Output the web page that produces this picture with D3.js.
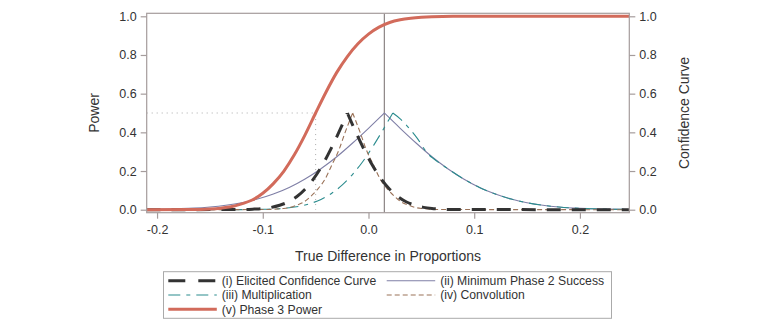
<!doctype html>
<html>
<head>
<meta charset="utf-8">
<title>Power and confidence curves</title>
<script src="https://cdn.jsdelivr.net/npm/d3@7"></script>
<style>
  body { margin: 0; background: #fff; }
  text { font-family: "Liberation Sans", Arial, sans-serif; fill: #333; }
</style>
</head>
<body>
<svg width="779" height="323"></svg>
<script>
// tick labels
var xTicks = [-0.2, -0.1, 0.0, 0.1, 0.2];
var yTicks = [0, 0.2, 0.4, 0.6, 0.8, 1.0];

// reference values
var refLine = 0.015;      // solid vertical line
var halfPower = -0.05;    // dotted guide: power 0.5

// (i) elicited confidence curve, [x, y]
var elicited = [[-0.21,0],[-0.116,0.001],[-0.108,0.003],[-0.1,0.006],[-0.092,0.012],[-0.084,0.023],
  [-0.076,0.04],[-0.068,0.067],[-0.06,0.106],[-0.052,0.159],[-0.044,0.227],[-0.036,0.309],[-0.028,0.401],
  [-0.02,0.5],
  [-0.012,0.401],[-0.004,0.309],[0.004,0.227],[0.012,0.159],[0.02,0.106],[0.028,0.067],[0.036,0.04],
  [0.044,0.023],[0.052,0.012],[0.06,0.006],[0.068,0.003],[0.076,0.001],[0.2467,0]];

// (ii) minimum phase 2 success
var minSuccess = [[-0.21,0.0015],[-0.195,0.003],[-0.18,0.005],[-0.165,0.008],[-0.15,0.014],[-0.135,0.023],
  [-0.12,0.036],[-0.105,0.055],[-0.09,0.081],[-0.075,0.115],[-0.06,0.159],[-0.045,0.212],[-0.03,0.274],
  [-0.015,0.345],[0,0.421],
  [0.015,0.5],
  [0.03,0.421],[0.045,0.345],[0.06,0.274],[0.075,0.212],[0.09,0.159],[0.105,0.115],[0.12,0.081],
  [0.135,0.055],[0.15,0.036],[0.165,0.023],[0.18,0.014],[0.195,0.008],[0.21,0.005],[0.225,0.003],
  [0.24,0.0015],[0.2467,0.001]];

// (iii) multiplication
var multiplication = [[-0.21,0],[-0.12,0.0005],[-0.1,0.002],[-0.085,0.005],[-0.075,0.01],[-0.065,0.018],
  [-0.055,0.032],[-0.045,0.053],[-0.035,0.084],[-0.025,0.127],[-0.015,0.183],[-0.005,0.252],
  [0.005,0.334],[0.015,0.425],
  [0.023,0.5],
  [0.03,0.47],[0.037,0.43],[0.046,0.37],[0.056,0.29],[0.062,0.262],[0.075,0.212],[0.09,0.159],
  [0.105,0.115],[0.12,0.081],[0.135,0.055],[0.15,0.036],[0.165,0.023],[0.18,0.014],[0.195,0.008],
  [0.21,0.005],[0.225,0.003],[0.24,0.0015],[0.2467,0.001]];

// (iv) convolution
var convolution = [[-0.21,0],[-0.094,0.001],[-0.088,0.003],[-0.081,0.006],[-0.074,0.012],[-0.068,0.023],
  [-0.061,0.04],[-0.055,0.067],[-0.048,0.106],[-0.041,0.159],[-0.035,0.227],[-0.028,0.309],[-0.022,0.401],
  [-0.015,0.5],
  [-0.008,0.401],[-0.002,0.309],[0.005,0.227],[0.011,0.159],[0.018,0.106],[0.025,0.067],[0.031,0.04],
  [0.038,0.023],[0.044,0.012],[0.051,0.006],[0.058,0.003],[0.064,0.001],[0.2467,0]];

// (v) phase 3 power
var power = [[-0.21,0],[-0.17,0.001],[-0.15,0.004],[-0.14,0.008],[-0.13,0.015],[-0.12,0.03],[-0.11,0.05],
  [-0.1,0.085],[-0.09,0.135],[-0.08,0.2],[-0.07,0.285],[-0.06,0.387],[-0.05,0.5],[-0.04,0.61],[-0.03,0.71],
  [-0.02,0.792],[-0.01,0.858],[0,0.908],[0.01,0.944],[0.02,0.968],[0.03,0.982],[0.04,0.99],[0.05,0.995],
  [0.06,0.998],[0.08,1],[0.2467,1]];

var series = [
  { name: "(ii) Minimum Phase 2 Success", data: minSuccess, color: "#7f7fa6", width: 1.1, dash: null, peak: true },
  { name: "(iii) Multiplication", data: multiplication, color: "#2b8c8e", width: 1.1, dash: "12,6,4,6", peak: true },
  { name: "(iv) Convolution", data: convolution, color: "#9a7258", width: 1.1, dash: "5,3", peak: true },
  { name: "(i) Elicited Confidence Curve", data: elicited, color: "#333333", width: 3, dash: "14,11", peak: true },
  { name: "(v) Phase 3 Power", data: power, color: "#d26b5b", width: 3, dash: null, peak: false }
];

var svg = d3.select("svg");
var pLeft = 146.7, pRight = 629.3, pTop = 13.3, pBottom = 212.7;

var x = d3.scaleLinear().domain([-0.2098, 0.2467]).range([pLeft, pRight]);
var y = d3.scaleLinear().domain([-0.0155, 1.0155]).range([pBottom, pTop]);

var axisColor = "#a59c9c";

// clip to plot frame
svg.append("clipPath").attr("id", "clip")
  .append("rect").attr("x", pLeft).attr("y", pTop).attr("width", pRight - pLeft).attr("height", pBottom - pTop);

var plot = svg.append("g").attr("clip-path", "url(#clip)");

// guides
plot.append("line")
  .attr("x1", x(refLine)).attr("x2", x(refLine))
  .attr("y1", pTop).attr("y2", pBottom)
  .attr("stroke", "#8c8484").attr("stroke-width", 1.2);

plot.append("path")
  .attr("d", "M" + x(-0.2098) + "," + y(0.5) + "H" + x(halfPower) + "V" + y(0))
  .attr("fill", "none").attr("stroke", "#aaa").attr("stroke-width", 1)
  .attr("stroke-dasharray", "1,4");

// curves: peaked curves are drawn as two smooth halves so the tip stays sharp
var line = d3.line().x(function(d) { return x(d[0]); }).y(function(d) { return y(d[1]); })
  .curve(d3.curveMonotoneX);

function pathFor(s) {
  if (!s.peak) return line(s.data);
  var i = d3.maxIndex(s.data, function(d) { return d[1]; });
  return line(s.data.slice(0, i + 1)) + line(s.data.slice(i));
}

series.forEach(function(s) {
  plot.append("path")
    .attr("d", pathFor(s))
    .attr("fill", "none")
    .attr("stroke", s.color)
    .attr("stroke-width", s.width)
    .attr("stroke-dasharray", s.dash);
});

// frame
svg.append("rect")
  .attr("x", pLeft).attr("y", pTop).attr("width", pRight - pLeft).attr("height", pBottom - pTop)
  .attr("fill", "none").attr("stroke", axisColor).attr("stroke-width", 1.2);

var fmt = function(d) { return d.toFixed(1); };

function styleAxis(g) {
  g.select(".domain").remove();
  g.selectAll(".tick line").attr("stroke", axisColor).attr("stroke-width", 1.2);
  g.selectAll(".tick text").attr("fill", "#333").style("font-size", "12.5px")
    .style("font-family", '"Liberation Sans", Arial, sans-serif');
}

svg.append("g").attr("transform", "translate(" + pLeft + ",0)")
  .call(d3.axisLeft(y).tickValues(yTicks).tickFormat(fmt).tickSize(6).tickPadding(4))
  .call(styleAxis);

svg.append("g").attr("transform", "translate(" + pRight + ",0)")
  .call(d3.axisRight(y).tickValues(yTicks).tickFormat(fmt).tickSize(6).tickPadding(4))
  .call(styleAxis);

svg.append("g").attr("transform", "translate(0," + pBottom + ")")
  .call(d3.axisBottom(x).tickValues(xTicks).tickFormat(fmt).tickSize(6).tickPadding(6))
  .call(styleAxis);

// axis titles
svg.append("text")
  .attr("transform", "translate(99," + (pTop + pBottom) / 2 + ") rotate(-90)")
  .attr("text-anchor", "middle").style("font-size", "14px").text("Power");

svg.append("text")
  .attr("transform", "translate(689," + (pTop + pBottom) / 2 + ") rotate(-90)")
  .attr("text-anchor", "middle").style("font-size", "14px").text("Confidence Curve");

svg.append("text")
  .attr("x", (pLeft + pRight) / 2).attr("y", 261)
  .attr("text-anchor", "middle").style("font-size", "14px").text("True Difference in Proportions");

// legend
var legend = svg.append("g");
legend.append("rect")
  .attr("x", 163.5).attr("y", 271.7).attr("width", 448).attr("height", 46.6)
  .attr("fill", "none").attr("stroke", "#aaa").attr("stroke-width", 1);

var legendOrder = ["(i) Elicited Confidence Curve", "(ii) Minimum Phase 2 Success",
  "(iii) Multiplication", "(iv) Convolution", "(v) Phase 3 Power"];

legendOrder.forEach(function(name, i) {
  var s = series.find(function(d) { return d.name === name; });
  var col = i % 2, row = Math.floor(i / 2);
  var lx = col === 0 ? 168.3 : 386.7;
  var ly = 280.7 + row * 14.3;
  legend.append("line")
    .attr("x1", lx).attr("x2", lx + 48.5).attr("y1", ly).attr("y2", ly)
    .attr("stroke", s.color).attr("stroke-width", s.width)
    .attr("stroke-dasharray", name.indexOf("(i)") === 0 ? "17,13" : s.dash);
  legend.append("text")
    .attr("x", lx + 53.5).attr("y", ly).attr("dy", "0.35em")
    .style("font-size", "12.2px").text(name);
});
</script>
</body>
</html>
